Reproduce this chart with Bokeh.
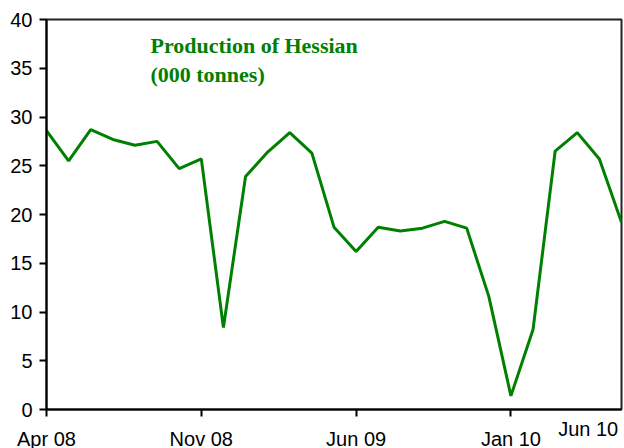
from bokeh.plotting import figure
from bokeh.models import FixedTicker, Label, Range1d
from bokeh.embed import file_html
from bokeh.resources import INLINE

months = ["Apr 08", "May 08", "Jun 08", "Jul 08", "Aug 08", "Sep 08", "Oct 08", "Nov 08", "Dec 08",
          "Jan 09", "Feb 09", "Mar 09", "Apr 09", "May 09", "Jun 09", "Jul 09", "Aug 09", "Sep 09",
          "Oct 09", "Nov 09", "Dec 09", "Jan 10", "Feb 10", "Mar 10", "Apr 10", "May 10", "Jun 10"]
production = [28.6, 25.5, 28.7, 27.7, 27.1, 27.5, 24.7, 25.7, 8.4,
              23.9, 26.4, 28.4, 26.3, 18.7, 16.2, 18.7, 18.3, 18.6,
              19.3, 18.6, 11.6, 1.4, 8.2, 26.5, 28.4, 25.7, 19.2]
tick_months = ["Apr 08", "Nov 08", "Jun 09", "Jan 10"]
y_ticks = [0, 5, 10, 15, 20, 25, 30, 35, 40]
title_lines = ["Production of Hessian", "(000 tonnes)"]

x = list(range(len(months)))
tick_idx = [months.index(m) for m in tick_months]

p = figure(width=624, height=448, output_backend="svg", toolbar_location=None,
           x_range=Range1d(0, len(months) - 1), y_range=Range1d(0, 40),
           min_border_left=46, min_border_right=3, min_border_top=19, min_border_bottom=39)
p.background_fill_color = "white"
p.border_fill_color = "white"
p.outline_line_color = "#222222"
p.outline_line_width = 2
p.xgrid.visible = False
p.ygrid.visible = False

p.line(x, production, line_color="#008000", line_width=3)

for ax in (p.xaxis[0], p.yaxis[0]):
    ax.axis_line_color = "black"
    ax.axis_line_width = 2
    ax.major_tick_line_color = "black"
    ax.major_tick_line_width = 2
    ax.major_tick_in = 0
    ax.major_tick_out = 7
    ax.minor_tick_line_color = None
    ax.major_label_text_font = "Liberation Sans"
    ax.major_label_text_font_size = "20px"
    ax.major_label_text_color = "black"

p.yaxis.ticker = FixedTicker(ticks=y_ticks)
p.yaxis.major_label_standoff = 7
p.xaxis.ticker = FixedTicker(ticks=tick_idx)
p.xaxis.major_label_overrides = {i: m for i, m in zip(tick_idx, tick_months)}
p.xaxis.major_label_standoff = 11

last = len(months) - 1
xa = p.xaxis[0]
xa.axis_label_align = "end"
xa.axis_label = months[last] + "\u00a0" * 12
xa.axis_label_standoff = -35
xa.axis_label_text_font = "Liberation Sans"
xa.axis_label_text_font_size = "20px"
xa.axis_label_text_font_style = "normal"
xa.axis_label_text_color = "black"

p.add_layout(Label(x=4.7, y=38.2, text=title_lines[0], text_align="left", text_baseline="top",
                   text_font="Liberation Serif", text_font_style="bold", text_font_size="22px",
                   text_color="#008000", y_offset=4))
p.add_layout(Label(x=4.7, y=38.2, text=title_lines[1], text_align="left", text_baseline="top",
                   text_font="Liberation Serif", text_font_style="bold", text_font_size="22px",
                   text_color="#008000", y_offset=4 - 28.5))

open("out.html", "w").write(file_html(p, INLINE))
